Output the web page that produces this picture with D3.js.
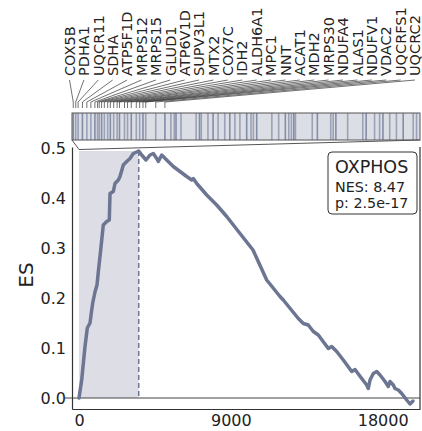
<!DOCTYPE html>
<html>
<head>
<meta charset="utf-8">
<script src="https://cdn.jsdelivr.net/npm/d3@7"></script>
<style>
  body { margin: 0; background: #fff; }
  svg { display: block; font-family: "DejaVu Sans", sans-serif; }
</style>
</head>
<body>
<div id="chart"></div>
<script>
// gene set + stats
const setName = "OXPHOS";
const nesText = "NES: 8.47";
const pText = "p: 2.5e-17";

// leading edge genes (top of the ranking) and their ranks
const geneNames = ["COX5B", "PDHA1", "UQCR11", "SDHA", "ATP5F1D", "MRPS12", "MRPS15",
  "GLUD1", "ATP6V1D", "SUPV3L1", "MTX2", "COX7C", "IDH2", "ALDH6A1", "MPC1", "NNT",
  "ACAT1", "MDH2", "MRPS30", "NDUFA4", "ALAS1", "NDUFV1", "VDAC2", "UQCRFS1", "UQCRC2"];
const geneRanks = [13, 38, 62, 106, 151, 192, 233, 260, 277, 301, 329, 363, 390, 424,
  459, 483, 534, 565, 603, 654, 688, 722, 750, 852, 945];

// remaining hits inside the leading edge
const hitRanks = [1006, 1040, 1058, 1109, 1263, 1297, 1315, 1383, 1435, 1486, 1554, 1605,
  1657, 1708, 1777, 1821, 1845, 1879, 2033, 2102, 2170, 2205, 2232, 2256, 2273, 2444,
  2496, 2632, 2657, 2684, 2804, 2958, 2992, 3078, 3129, 3163, 3232, 3300, 3369, 3471, 3505];

// running enrichment score
const curveRank = [0, 160, 356, 492, 652, 753, 812, 948, 1067, 1144, 1286, 1440, 1642,
  1796, 1838, 2033, 2134, 2330, 2430, 2626, 2827, 3023, 3219, 3540, 3717, 3972, 4209,
  4404, 4606, 4701, 4902, 5199, 5590, 5987, 6384, 6680, 6775, 6977, 7570, 8162, 8755,
  9544, 10314, 11126, 11915, 12111, 13000, 13296, 13592, 13889, 14185, 14778, 14979,
  15276, 15667, 16165, 16360, 16757, 17054, 17149, 17250, 17445, 17647, 17843, 18139,
  18335, 18435, 18631, 18731, 18927, 19129, 19425, 19621, 19800];
const curveES = [0, 0.036, 0.103, 0.140, 0.150, 0.176, 0.190, 0.212, 0.226, 0.252, 0.296,
  0.346, 0.353, 0.356, 0.409, 0.413, 0.429, 0.436, 0.443, 0.466, 0.473, 0.479, 0.489,
  0.494, 0.486, 0.476, 0.486, 0.489, 0.479, 0.473, 0.486, 0.476, 0.463, 0.453, 0.443,
  0.436, 0.439, 0.429, 0.406, 0.386, 0.363, 0.329, 0.296, 0.236, 0.203, 0.196, 0.159,
  0.149, 0.146, 0.133, 0.126, 0.099, 0.103, 0.093, 0.076, 0.053, 0.057, 0.039, 0.026,
  0.019, 0.036, 0.049, 0.053, 0.046, 0.033, 0.023, 0.033, 0.026, 0.019, 0.016, 0.009,
  -0.004, -0.012, -0.006];

const xTicks = [0, 9000, 18000];
const yTicks = [0, 0.1, 0.2, 0.3, 0.4, 0.5];

const W = 422, H = 431;
const lineCol = "#6c7591";
const shadeCol = "#dcdde5";

const svg = d3.select("#chart").append("svg")
  .attr("width", W).attr("height", H);

const x = d3.scaleLinear().domain([-415, 20213]).range([72, 420]);
const y = d3.scaleLinear().domain([-0.022, 0.502]).range([409, 147]);

const peakI = d3.maxIndex(curveES);
const peakRank = curveRank[peakI];
const esMax = curveES[peakI];

// barcode = leading edge stretched to full width
const bc = d3.scaleLinear().domain([0, peakRank]).range([72, 420]);
const bcTop = 113, bcBot = 140;

// shaded leading edge
svg.append("rect")
  .attr("x", x(0)).attr("y", y(esMax))
  .attr("width", x(peakRank) - x(0)).attr("height", y(0) - y(esMax))
  .attr("fill", shadeCol);

// zero line
svg.append("line")
  .attr("x1", 65).attr("x2", 420)
  .attr("y1", y(0)).attr("y2", y(0))
  .attr("stroke", "#444").attr("stroke-width", 1);

// peak marker
svg.append("line")
  .attr("x1", x(peakRank)).attr("x2", x(peakRank))
  .attr("y1", y(esMax)).attr("y2", y(0))
  .attr("stroke", lineCol).attr("stroke-width", 1.5)
  .attr("stroke-dasharray", "5,3");

// ES curve
const line = d3.line()
  .x((d, i) => x(curveRank[i]))
  .y(d => y(d));
svg.append("path")
  .datum(curveES)
  .attr("d", line)
  .attr("fill", "none")
  .attr("stroke", lineCol)
  .attr("stroke-width", 3.5)
  .attr("stroke-linejoin", "round")
  .attr("stroke-linecap", "round");

// axes
const yAxis = svg.append("g")
  .attr("transform", "translate(72,0)")
  .call(d3.axisLeft(y).tickValues(yTicks).tickFormat(d3.format(".1f"))
    .tickSize(0).tickPadding(6));
const xAxis = svg.append("g")
  .attr("transform", "translate(0,409)")
  .call(d3.axisBottom(x).tickValues(xTicks).tickFormat(d => d)
    .tickSize(0).tickPadding(6));
[xAxis, yAxis].forEach(g => {
  g.selectAll("text").attr("font-size", 16).attr("fill", "#222")
    .attr("font-family", "DejaVu Sans, sans-serif");
  g.select(".domain").attr("stroke", "#333").attr("stroke-width", 1.2);
});

// right spine
svg.append("line")
  .attr("x1", 420).attr("x2", 420).attr("y1", 147).attr("y2", 409)
  .attr("stroke", "#333").attr("stroke-width", 1.2);

svg.append("text")
  .attr("transform", "translate(33,275) rotate(-90)")
  .attr("text-anchor", "middle")
  .attr("font-size", 20)
  .attr("fill", "#222")
  .text("ES");

// barcode strip
svg.append("rect")
  .attr("x", 72).attr("y", bcTop).attr("width", 348).attr("height", bcBot - bcTop)
  .attr("fill", "#dcdee6");
svg.append("g").selectAll("line")
  .data(geneRanks.concat(hitRanks))
  .join("line")
  .attr("x1", d => bc(d)).attr("x2", d => bc(d))
  .attr("y1", bcTop).attr("y2", bcBot)
  .attr("stroke", "#8089a3")
  .attr("stroke-width", 1.6)
  .attr("opacity", (d, i) => (i % 3 === 0 ? 0.95 : 0.7));
svg.append("rect")
  .attr("x", 72).attr("y", bcTop).attr("width", 348).attr("height", bcBot - bcTop)
  .attr("fill", "none").attr("stroke", "#555").attr("stroke-width", 1);

// connectors from barcode corners down to start of the ranking
svg.append("line")
  .attr("x1", 72).attr("y1", bcBot).attr("x2", x(0)).attr("y2", y(esMax) - 1.5)
  .attr("stroke", "#555").attr("stroke-width", 1);
svg.append("line")
  .attr("x1", 420).attr("y1", bcBot).attr("x2", x(0)).attr("y2", y(esMax) - 1.5)
  .attr("stroke", "#555").attr("stroke-width", 1);

// gene labels and leader lines
const labelX = d3.scalePoint().domain(geneNames).range([69.5, 415]);
const lead = svg.append("g");
geneNames.forEach((g, i) => {
  const gx = bc(geneRanks[i]);
  lead.append("path")
    .attr("d", `M${labelX(g)},80L${gx},102L${gx},108`)
    .attr("fill", "none")
    .attr("stroke", "#333")
    .attr("stroke-width", 0.7);
  lead.append("text")
    .attr("transform", `translate(${labelX(g)},76) rotate(-90)`)
    .attr("dy", "0.36em")
    .attr("font-size", 14.5)
    .attr("fill", "#222")
    .text(g);
});

// stats box
const box = svg.append("g").attr("transform", "translate(328,152)");
box.append("rect")
  .attr("width", 89).attr("height", 62).attr("rx", 4)
  .attr("fill", "#fff").attr("stroke", "#333").attr("stroke-width", 1);
box.append("text").attr("x", 7).attr("y", 21).attr("font-size", 17.5).attr("fill", "#222").text(setName);
box.append("text").attr("x", 7).attr("y", 40).attr("font-size", 14.3).attr("fill", "#222").text(nesText);
box.append("text").attr("x", 7).attr("y", 56).attr("font-size", 14.3).attr("fill", "#222").text(pText);
</script>
</body>
</html>
